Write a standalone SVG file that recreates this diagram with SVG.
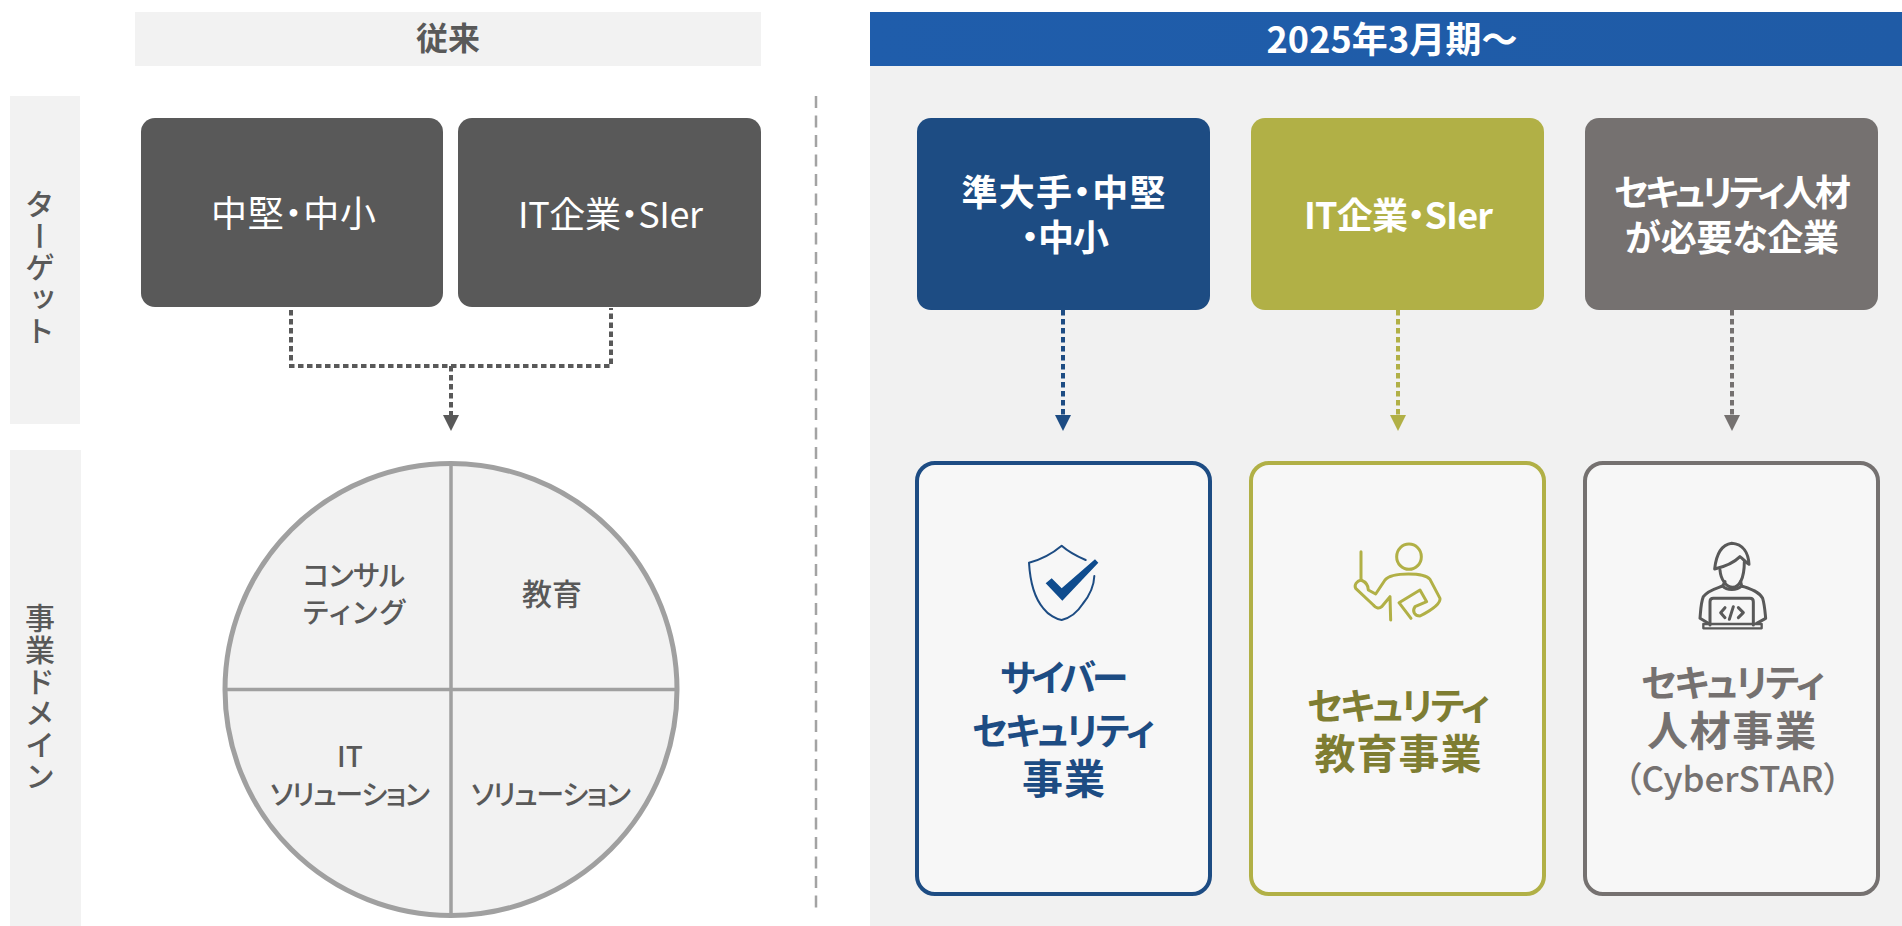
<svg xmlns="http://www.w3.org/2000/svg" width="1902" height="926" viewBox="0 0 1902 926">
<defs>
<style>
text{font-family:"Noto Sans CJK JP","Noto Sans",sans-serif;font-feature-settings:"palt";text-anchor:middle}
.w{fill:#fff}.g{fill:#595959}
.b{font-weight:700}
.side{writing-mode:vertical-rl;font-size:30px;font-weight:500;fill:#595959;text-anchor:middle}
.big{font-size:36px;font-weight:400}
.t1{font-size:36px;font-weight:700}
.t2{font-size:37px;font-weight:700}
.t3{font-size:41px;font-weight:700}
.q{font-size:28px;font-weight:500;fill:#595959}
.c{fill:none;stroke-width:4;stroke-dasharray:5.500 3.500}
.ic{fill:none;stroke-linecap:round;stroke-linejoin:round}
</style>
<linearGradient id="hdr" x1="0" x2="1" y1="0" y2="0"><stop offset="0" stop-color="#1f5dab"/><stop offset="1" stop-color="#1f5ba6"/></linearGradient>
</defs>
<rect width="1902" height="926" fill="#fff"/>
<g id="panels">
<rect x="135" y="12" width="626" height="54" fill="#f2f2f2"/>
<rect x="870" y="66" width="1032" height="860" fill="#f1f1f1"/>
<rect x="870" y="12" width="1032" height="54" fill="url(#hdr)"/>
<rect x="10" y="96" width="70" height="328" fill="#f2f2f2"/>
<rect x="10" y="450" width="71" height="476" fill="#f2f2f2"/>
<line x1="816" y1="96" x2="816" y2="912" stroke="#a3a3a3" stroke-width="2.500" stroke-dasharray="12 7.500"/>
<text x="448" y="50" class="b g" font-size="32" textLength="64">従来</text>
<text x="1392" y="53" class="b w" font-size="36" textLength="251">2025年3月期～</text>
<text x="40" y="267" class="side" textLength="157">ターゲット</text>
<text x="40" y="697" class="side" textLength="188">事業ドメイン</text>
</g>
<g id="connectors">
<path class="c" stroke="#595959" d="M291 310V366H611V308M451 366V418"/>
<path d="M443 415h16l-8 16z" fill="#595959"/>
<path class="c" stroke="#1d4c83" d="M1063 310V418"/>
<path d="M1055 415h16l-8 16z" fill="#1d4c83"/>
<path class="c" stroke="#b1b046" d="M1398 310V418"/>
<path d="M1390 415h16l-8 16z" fill="#b1b046"/>
<path class="c" stroke="#757170" d="M1732 310V418"/>
<path d="M1724 415h16l-8 16z" fill="#757170"/>
</g>
<g id="node-chuken">
<rect x="141" y="118" width="302" height="189" rx="14" fill="#595959"/>
<text x="293.500" y="227" class="w big" textLength="165">中堅・中小</text>
</g>
<g id="node-it">
<rect x="458" y="118" width="303" height="189" rx="14" fill="#595959"/>
<text x="610.500" y="228" class="w big" textLength="185">IT企業・SIer</text>
</g>
<g id="node-domain">
<circle cx="451" cy="689.500" r="226" fill="#f2f2f2" stroke="#a0a0a0" stroke-width="5"/>
<path d="M451 463V915M225 689.500H677" stroke="#a0a0a0" stroke-width="3.500" fill="none"/>
<text x="354" y="586" class="q" textLength="102">コンサル</text>
<text x="354" y="623" class="q" textLength="102">ティング</text>
<text x="552" y="605" style="font-size:30px;font-weight:500;fill:#595959">教育</text>
<text x="350" y="767" class="q">IT</text>
<text x="350" y="805" class="q" textLength="160">ソリューション</text>
<text x="551" y="805" class="q" textLength="160">ソリューション</text>
</g>
<g id="node-target1">
<rect x="917" y="118" width="293" height="192" rx="14" fill="#1d4c83"/>
<text x="1063.500" y="206" class="w t1" textLength="204">準大手・中堅</text>
<text x="1065" y="251" class="w t1" textLength="88">・中小</text>
</g>
<g id="node-target2">
<rect x="1251" y="118" width="293" height="192" rx="14" fill="#b1b046"/>
<text x="1398.500" y="229" class="w t1" textLength="189">IT企業・SIer</text>
</g>
<g id="node-target3">
<rect x="1585" y="118" width="293" height="192" rx="14" fill="#757170"/>
<text x="1732.500" y="206" class="w t1" textLength="237">セキュリティ人材</text>
<text x="1732" y="251" class="w t1" textLength="214">が必要な企業</text>
</g>
<g id="node-cyber">
<rect x="917" y="463" width="293" height="431" rx="18" fill="#f7f7f7" stroke="#1d4c83" stroke-width="4"/>
<g transform="translate(1000 530) scale(.33333)">
<path class="ic" stroke="#1d4c83" stroke-width="6" d="M257 90C230 78 205 65 185 47C160 68 125 88 87 98C90 150 100 200 130 235C145 255 170 268 185 270C205 265 230 250 248 222C270 195 282 165 283 138"/>
<path d="M137 160L155 145L185 175L285 88L295 98L187 212z" fill="#0f4c8e"/>
</g>
<text x="1064" y="692" class="t2" fill="#1d4c83" textLength="128">サイバー</text>
<text x="1063.500" y="745" class="t2" fill="#1d4c83" textLength="183">セキュリティ</text>
<text x="1063.500" y="794" class="t3" fill="#1d4c83" textLength="83">事業</text>
</g>
<g id="node-edu">
<rect x="1251" y="463" width="293" height="431" rx="18" fill="#f7f7f7" stroke="#b1b046" stroke-width="4"/>
<g class="ic" stroke="#b1b046" stroke-width="9" transform="translate(1340 530) scale(.33333)">
<ellipse cx="207" cy="80" rx="37" ry="38"/>
<path d="M63 65V150C50 153 42 165 47 175L100 225C108 235 118 237 125 230L150 200L152 270"/>
<path d="M63 150C75 155 85 165 85 180L107 192L135 150C145 138 165 132 205 132C240 132 262 138 270 148L300 205C302 220 275 240 240 258C225 258 215 245 225 230L260 215L240 180L177 218L213 265"/>
</g>
<text x="1398.500" y="720" class="t2" fill="#7e7d32" textLength="183">セキュリティ</text>
<text x="1398" y="769" class="t3" fill="#7e7d32" textLength="167">教育事業</text>
</g>
<g id="node-talent">
<rect x="1585" y="463" width="293" height="431" rx="18" fill="#f7f7f7" stroke="#757170" stroke-width="4"/>
<g class="ic" stroke="#595959" stroke-width="9" transform="translate(1680 530) scale(.33333)">
<path d="M104 117C108 80 120 45 155 40C190 42 205 70 207 103C195 95 188 85 180 80C160 100 135 110 104 117"/>
<path d="M120 120C122 150 140 172 158 172C178 172 193 145 193 95"/>
<path d="M135 155L128 168C110 175 85 180 70 200C62 220 62 245 60 265L85 280M182 155L185 168C205 175 235 182 248 205C254 225 255 245 257 265L230 280"/>
<path d="M128 168C140 182 170 182 185 168"/>
<path d="M90 285V215C90 208 95 205 100 205H210C217 205 220 208 220 215V285"/>
<path d="M70 282H245V295H70z" stroke-width="7"/>
<path d="M135 233L122 248L135 263M175 233L190 248L175 263M160 230L148 268"/>
</g>
<text x="1733" y="697" class="t2" fill="#757170" textLength="184">セキュリティ</text>
<text x="1731.500" y="746" class="t3" fill="#757170" textLength="169">人材事業</text>
<text x="1732.500" y="792" font-size="35" font-weight="500" fill="#757170" textLength="217">（CyberSTAR）</text>
</g>
</svg>
